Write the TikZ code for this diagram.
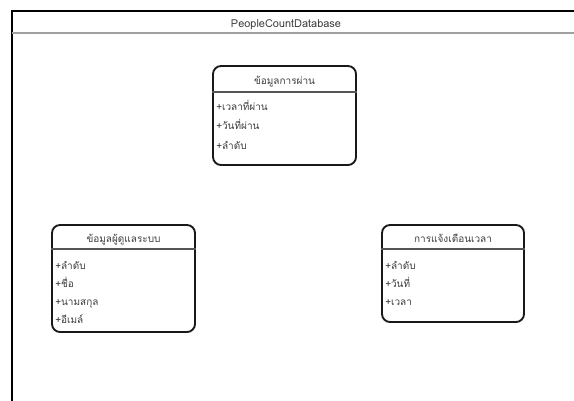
\documentclass[tikz,border=0pt]{standalone}
\usepackage{fontspec}
\setmainfont[Script=Thai]{Loma}
\definecolor{headgray}{RGB}{160,160,160}
\definecolor{splitgray}{RGB}{85,85,85}
\definecolor{textgray}{RGB}{60,60,60}
\usetikzlibrary{positioning}

\begin{document}
\begin{tikzpicture}[x=0.75pt,y=-0.75pt,
    classbox/.style={draw=black!90, line width=1.4pt, rounded corners=6pt, inner sep=0pt},
    classname/.style={font=\fontsize{7.5}{9}\selectfont, text=textgray, anchor=base, inner sep=0pt},
    attr/.style={font=\fontsize{7.5}{9}\selectfont, text=textgray, anchor=base west, inner sep=0pt}]
    \clip (0,0) rectangle (574,400);
    % package frame
    \draw[line width=0.8pt] (12,420) -- (12,11) -- (600,11);
    \draw[headgray, line width=1.3pt] (12,33) -- (600,33);
    \node[classname, font=\fontsize{8.2}{10}\selectfont] (pkg) at (286,27) {PeopleCountDatabase};

    % classes
    \node[classbox, minimum width=107.25pt, minimum height=74.25pt] (pass) at (284.5,115.5) {};
    \node[classbox, minimum width=107.25pt, minimum height=80.25pt] (admin) at (123.5,278.5) {};
    \node[classbox, minimum width=106.5pt, minimum height=72.75pt] (alert) at (453,273.5) {};

    \coordinate (passsep) at (0,92);
    \coordinate (lowsep) at (0,249);
    \draw[splitgray, line width=1pt] (pass.west |- passsep) -- (pass.east |- passsep);
    \draw[splitgray, line width=1pt] (admin.west |- lowsep) -- (admin.east |- lowsep);
    \draw[splitgray, line width=1pt] (alert.west |- lowsep) -- (alert.east |- lowsep);

    \node[classname] (passname) at (284.5,84) {ข้อมูลการผ่าน};
    \node[classname] (adminname) at (123.5,242) {ข้อมูลผู้ดูแลระบบ};
    \node[classname] (alertname) at (453,242) {การแจ้งเตือนเวลา};

    \node[attr] (pass1) at (216,110) {+เวลาที่ผ่าน};
    \node[attr] (pass2) at (216,129.5) {+วันที่ผ่าน};
    \node[attr] (pass3) at (216,149) {+ลำดับ};

    \node[attr] (admin1) at (55,269.5) {+ลำดับ};
    \node[attr] (admin2) at (55,287.5) {+ชื่อ};
    \node[attr] (admin3) at (55,305.5) {+นามสกุล};
    \node[attr] (admin4) at (55,323.5) {+อีเมล์};

    \node[attr] (alert1) at (385,269.5) {+ลำดับ};
    \node[attr] (alert2) at (385,287.5) {+วันที่};
    \node[attr] (alert3) at (385,305.5) {+เวลา};
\end{tikzpicture}
\end{document}
